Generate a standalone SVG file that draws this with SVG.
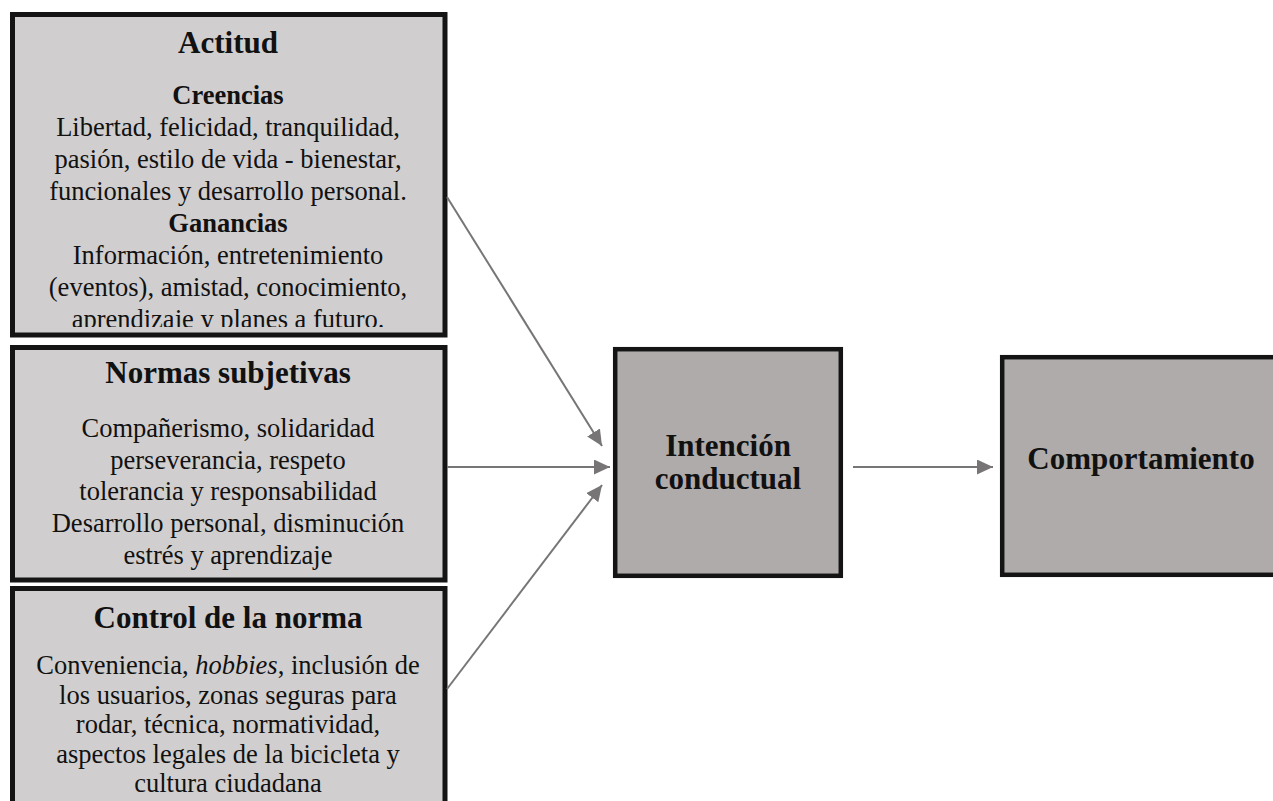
<svg xmlns="http://www.w3.org/2000/svg" width="1273" height="801" viewBox="0 0 1273 801">
  <defs>
    <style>
      .light { fill: #d0cecf; stroke: #141414; stroke-width: 5; }
      .dark { fill: #afabaa; stroke: #141414; stroke-width: 4.5; }
      text { font-family: "Liberation Serif", "Times New Roman", serif; fill: #111; text-anchor: middle; }
      .h { font-size: 31px; font-weight: bold; }
      .sh { font-size: 26.5px; font-weight: bold; }
      .b { font-size: 26.5px; }
      .conn { stroke: #787576; stroke-width: 2; fill: none; marker-end: url(#arrow); }
    </style>
    <marker id="arrow" markerUnits="userSpaceOnUse" markerWidth="16" markerHeight="15" refX="16" refY="7.5" orient="auto">
      <path d="M0,0 L16,7.5 L0,15 Z" fill="#787576"/>
    </marker>
    <clipPath id="clipA">
      <rect x="15" y="17" width="428" height="310"/>
    </clipPath>
  </defs>

  <g id="actitud">
    <rect class="light" x="12.5" y="14.5" width="432.5" height="320.5"/>
    <g clip-path="url(#clipA)">
      <text class="h" x="228" y="53">Actitud</text>
      <text class="sh" x="228" y="104">Creencias</text>
      <text class="b" x="228" y="136">Libertad, felicidad, tranquilidad,</text>
      <text class="b" x="228" y="168">pasión, estilo de vida - bienestar,</text>
      <text class="b" x="228" y="200">funcionales y desarrollo personal.</text>
      <text class="sh" x="228" y="232">Ganancias</text>
      <text class="b" x="228" y="264">Información, entretenimiento</text>
      <text class="b" x="228" y="296">(eventos), amistad, conocimiento,</text>
      <text class="b" x="228" y="328">aprendizaje y planes a futuro.</text>
    </g>
  </g>

  <g id="normas">
    <rect class="light" x="12.5" y="347.5" width="432.5" height="232.5"/>
    <text class="h" x="228" y="383">Normas subjetivas</text>
    <text class="b" x="228" y="437">Compañerismo, solidaridad</text>
    <text class="b" x="228" y="468.5">perseverancia, respeto</text>
    <text class="b" x="228" y="500">tolerancia y responsabilidad</text>
    <text class="b" x="228" y="532">Desarrollo personal, disminución</text>
    <text class="b" x="228" y="563.5">estrés y aprendizaje</text>
  </g>

  <g id="control">
    <rect class="light" x="12.5" y="588.5" width="432.5" height="240"/>
    <text class="h" x="228" y="628">Control de la norma</text>
    <text class="b" x="228" y="674">Conveniencia, <tspan font-style="italic">hobbies</tspan>, inclusión de</text>
    <text class="b" x="228" y="703.5">los usuarios, zonas seguras para</text>
    <text class="b" x="228" y="733">rodar, técnica, normatividad,</text>
    <text class="b" x="228" y="762.5">aspectos legales de la bicicleta y</text>
    <text class="b" x="228" y="792">cultura ciudadana</text>
  </g>

  <g id="intencion">
    <rect class="dark" x="615.2" y="349.2" width="225.6" height="226.6"/>
    <text class="h" x="728" y="456">Intención</text>
    <text class="h" x="728" y="489">conductual</text>
  </g>

  <g id="comportamiento">
    <rect class="dark" x="1002.2" y="357.2" width="300" height="217.6"/>
    <text class="h" x="1141" y="469">Comportamiento</text>
  </g>

  <g id="connectors">
    <line class="conn" x1="447" y1="197" x2="602" y2="446"/>
    <line class="conn" x1="447" y1="467" x2="610" y2="467"/>
    <line class="conn" x1="447" y1="689" x2="602" y2="485"/>
    <line class="conn" x1="853" y1="467" x2="993" y2="467"/>
  </g>
</svg>
